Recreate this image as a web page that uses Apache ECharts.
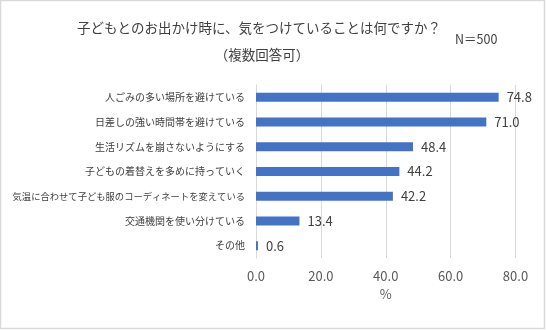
<!DOCTYPE html>
<html>
<head>
<meta charset="utf-8">
<script src="https://cdn.jsdelivr.net/npm/echarts@6/dist/echarts.min.js"></script>
<style>
  html, body { margin: 0; padding: 0; background: #fff; }
  #chart { width: 546px; height: 330px; }
</style>
</head>
<body>
<div id="chart"></div>
<script>
// Survey: things parents take care of when going out with children (multiple answers, %)
const categories = [
  '人ごみの多い場所を避けている',
  '日差しの強い時間帯を避けている',
  '生活リズムを崩さないようにする',
  '子どもの着替えを多めに持っていく',
  '気温に合わせて子ども服のコーディネートを変えている',
  '交通機関を使い分けている',
  'その他'
];
const values = [74.8, 71.0, 48.4, 44.2, 42.2, 13.4, 0.6];
const titleLines = ['子どもとのお出かけ時に、気をつけていることは何ですか？', '（複数回答可）'];
const sampleNote = 'N＝500';
const axisUnit = '%';

const FONT = '"Noto Sans CJK JP", "Noto Sans", sans-serif';
const chart = echarts.init(document.getElementById('chart'), null, { renderer: 'canvas' });

// very long category names are set a touch smaller so they fit left of the axis
const categoryItems = categories.map(name => (
  name.length > 20 ? { value: name, textStyle: { fontSize: 9.3 } } : name
));

chart.setOption({
  animation: false,
  backgroundColor: '#ffffff',
  textStyle: { fontFamily: FONT },
  graphic: [
    {
      type: 'rect',
      shape: { x: 0.5, y: 0.5, width: 544, height: 328 },
      style: { fill: 'none', stroke: '#d9d9d9', lineWidth: 1.5 },
      silent: true
    },
    {
      type: 'text',
      x: 259, y: 28,
      style: { text: titleLines[0], fill: '#404040', font: '13.5px ' + FONT, align: 'center', verticalAlign: 'middle' }
    },
    {
      type: 'text',
      x: 262, y: 55,
      style: { text: titleLines[1], fill: '#404040', font: '13.5px ' + FONT, align: 'center', verticalAlign: 'middle' }
    },
    {
      type: 'text',
      x: 455, y: 39,
      style: { text: sampleNote, fill: '#404040', font: '12.5px ' + FONT, align: 'left', verticalAlign: 'middle' }
    }
  ],
  grid: { left: 256, right: 30.5, top: 85, bottom: 72, containLabel: false, outerBoundsMode: 'none' },
  xAxis: {
    type: 'value',
    min: 0,
    max: 80,
    interval: 20,
    name: axisUnit,
    nameLocation: 'middle',
    nameGap: 30,
    nameTextStyle: { color: '#595959', fontSize: 13, fontFamily: FONT },
    axisLine: { show: false },
    axisTick: { show: false },
    axisLabel: {
      color: '#595959', fontSize: 13, fontFamily: FONT, margin: 12,
      formatter: v => v.toFixed(1)
    },
    splitLine: { show: true, lineStyle: { color: '#d9d9d9', width: 1 } }
  },
  yAxis: {
    type: 'category',
    data: categoryItems,
    inverse: true,
    axisLine: { show: true, lineStyle: { color: '#d9d9d9', width: 1 } },
    axisTick: { show: false },
    axisLabel: { color: '#404040', fontSize: 10, fontFamily: FONT, margin: 11 }
  },
  series: [{
    type: 'bar',
    data: values,
    barWidth: 9,
    itemStyle: { color: '#4472C4' },
    label: {
      show: true,
      position: 'right',
      distance: 8,
      color: '#404040',
      fontSize: 13,
      fontFamily: FONT,
      formatter: p => p.value.toFixed(1)
    }
  }]
});
</script>
</body>
</html>
